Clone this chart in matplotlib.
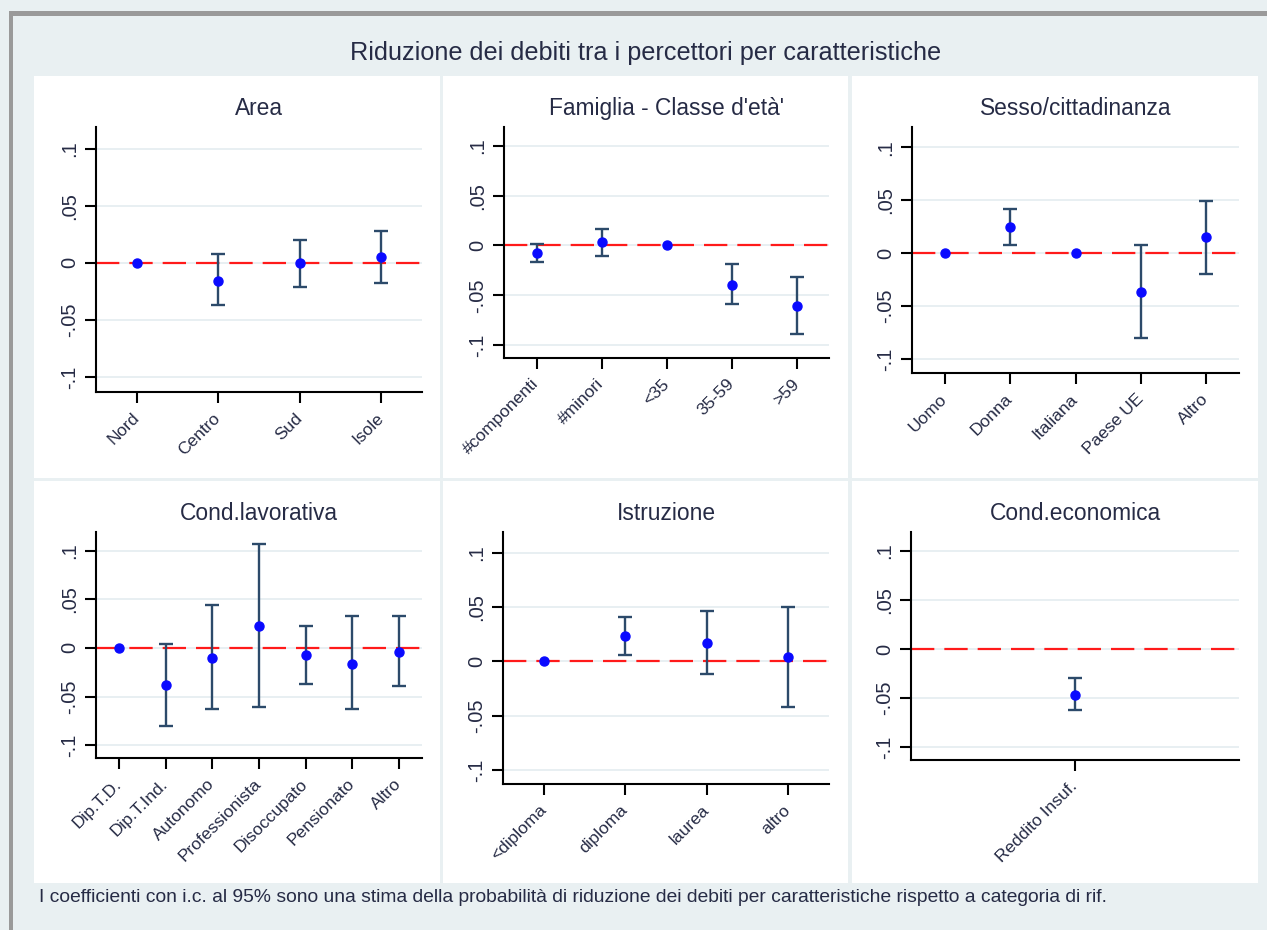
import numpy as np
import matplotlib
matplotlib.use("Agg")
import matplotlib.pyplot as plt
from matplotlib.patches import Rectangle

nan = np.nan

### Data: coefficient and 95% c.i. for each panel
area_cats = ["Nord", "Centro", "Sud", "Isole"]
area_coef = [0.0, -0.016, 0.000, 0.005]
area_lo = [nan, -0.037, -0.021, -0.018]
area_hi = [nan, 0.0075, 0.0205, 0.0278]

fam_cats = ["#componenti", "#minori", "<35", "35-59", ">59"]
fam_coef = [-0.008, 0.0034, 0.0, -0.040, -0.061]
fam_lo = [-0.017, -0.0104, nan, -0.059, -0.0886]
fam_hi = [0.0017, 0.0169, nan, -0.0188, -0.032]

sesso_cats = ["Uomo", "Donna", "Italiana", "Paese UE", "Altro"]
sesso_coef = [0.0, 0.025, 0.0, -0.0364, 0.0153]
sesso_lo = [nan, 0.0081, nan, -0.0803, -0.0192]
sesso_hi = [nan, 0.0417, nan, 0.0081, 0.0492]

lav_cats = ["Dip.T.D.", "Dip.T.Ind.", "Autonomo", "Professionista",
            "Disoccupato", "Pensionato", "Altro"]
lav_coef = [0.0, -0.038, -0.010, 0.0225, -0.0073, -0.016, -0.0038]
lav_lo = [nan, -0.0806, -0.0632, -0.0608, -0.0368, -0.0632, -0.0389]
lav_hi = [nan, 0.0045, 0.0437, 0.1066, 0.0222, 0.0329, 0.0329]

istr_cats = ["<diploma", "diploma", "laurea", "altro"]
istr_coef = [0.0, 0.0236, 0.0169, 0.0037]
istr_lo = [nan, 0.0059, -0.0116, -0.0423]
istr_hi = [nan, 0.0405, 0.046, 0.050]

eco_cats = ["Reddito Insuf."]
eco_coef = [-0.0465]
eco_lo = [-0.0618]
eco_hi = [-0.0296]

y_ticks = [-0.1, -0.05, 0, 0.05, 0.1]
y_ticklabels = ["-.1", "-.05", "0", ".05", ".1"]

main_title = "Riduzione dei debiti tra i percettori per caratteristiche"
note = ("I coefficienti con i.c. al 95% sono una stima della probabilità di "
        "riduzione dei debiti per caratteristiche rispetto a categoria di rif.")

panels = [
    ("Area", area_cats, area_coef, area_lo, area_hi),
    ("Famiglia - Classe d'età'", fam_cats, fam_coef, fam_lo, fam_hi),
    ("Sesso/cittadinanza", sesso_cats, sesso_coef, sesso_lo, sesso_hi),
    ("Cond.lavorativa", lav_cats, lav_coef, lav_lo, lav_hi),
    ("Istruzione", istr_cats, istr_coef, istr_lo, istr_hi),
    ("Cond.economica", eco_cats, eco_coef, eco_lo, eco_hi),
]

### Layout in pixels (x0, y_top, x1, y_bottom)
W, H = 1267, 930
panel_boxes = [(34, 76, 440, 478), (443, 76, 848, 478), (852, 76, 1258, 478),
               (34, 481, 440, 883), (443, 481, 848, 883), (852, 481, 1258, 883)]
axes_boxes = [(96, 127, 422, 392), (504, 127, 829, 358), (912, 127, 1239, 373),
              (96, 532, 422, 758), (503, 532, 829, 784), (911, 532, 1239, 760)]

BG = "#e9f0f2"
TXT = "#262b45"
BAR = "#2c4a6a"

plt.rcParams["font.family"] = ["Liberation Sans", "DejaVu Sans"]


def fig_rect(x0, y0, x1, y1):
    return [x0 / W, 1 - y1 / H, (x1 - x0) / W, (y1 - y0) / H]


def draw_panel(ax, title, cats, coef, lo, hi):
    x = np.arange(1, len(cats) + 1)
    coef = np.array(coef)
    lo = np.array(lo)
    hi = np.array(hi)

    ax.axhline(0, color="#ff1a1a", lw=1.6, dashes=(10.5, 4.5), zorder=2)
    m = np.isfinite(lo)
    ax.errorbar(x[m], coef[m], yerr=[coef[m] - lo[m], hi[m] - coef[m]],
                fmt="none", ecolor=BAR, elinewidth=1.7, capsize=5,
                capthick=1.7, zorder=3)
    ax.plot(x, coef, "o", color="#0a0aff", ms=6.5, zorder=4)

    ax.set_xlim(0.5, len(cats) + 0.5)
    ax.set_ylim(-0.113, 0.119)
    ax.set_yticks(y_ticks)
    ax.set_yticklabels(y_ticklabels, rotation=90, va="center",
                       fontsize=14.5, color=TXT)
    ax.set_xticks(x)
    ax.set_xticklabels(cats, rotation=45, ha="right", va="center",
                       rotation_mode="anchor", fontsize=12.5, color=TXT)
    ax.tick_params(axis="both", direction="out", length=8, width=1.5,
                   color="black")
    ax.tick_params(axis="y", pad=4)
    ax.tick_params(axis="x", pad=9)

    ax.grid(axis="y", color="#e6eef1", lw=1.3)
    ax.set_axisbelow(True)
    for s in ["top", "right"]:
        ax.spines[s].set_visible(False)
    for s in ["left", "bottom"]:
        ax.spines[s].set_linewidth(1.5)
        ax.spines[s].set_color("black")


def main():
    fig = plt.figure(figsize=(W / 100, H / 100), dpi=100)
    fig.patch.set_facecolor(BG)

    ### Step 1. cornice grigia e pannelli bianchi
    fig.add_artist(Rectangle((9 / W, 1 - 16 / H), 1 - 9 / W, 5 / H,
                             transform=fig.transFigure, color="#9a9a9a",
                             lw=0, zorder=-2))
    fig.add_artist(Rectangle((9 / W, 0), 4 / W, 1 - 11 / H,
                             transform=fig.transFigure, color="#9a9a9a",
                             lw=0, zorder=-2))
    for (x0, y0, x1, y1) in panel_boxes:
        r = fig_rect(x0, y0, x1, y1)
        fig.add_artist(Rectangle((r[0], r[1]), r[2], r[3],
                                 transform=fig.transFigure, color="white",
                                 lw=0, zorder=-1))

    ### Step 2. titoli
    fig.text(646 / W, 1 - 60 / H, main_title, ha="center", va="baseline",
             fontsize=18.2, color=TXT)
    fig.text(39 / W, 1 - 902 / H, note, ha="left", va="baseline",
             fontsize=13.85, color=TXT)

    ### Step 3. pannelli
    for box, (title, cats, coef, lo, hi) in zip(axes_boxes, panels):
        ax = fig.add_axes(fig_rect(*box))
        ax.set_facecolor("white")
        draw_panel(ax, title, cats, coef, lo, hi)
        cx = (box[0] + box[2]) / 2
        fig.text(cx / W, 1 - (box[1] - 12) / H, title, ha="center",
                 va="baseline", fontsize=16.4, color=TXT)

    fig.savefig("out.png", dpi=100, facecolor=BG)


if __name__ == "__main__":
    main()
